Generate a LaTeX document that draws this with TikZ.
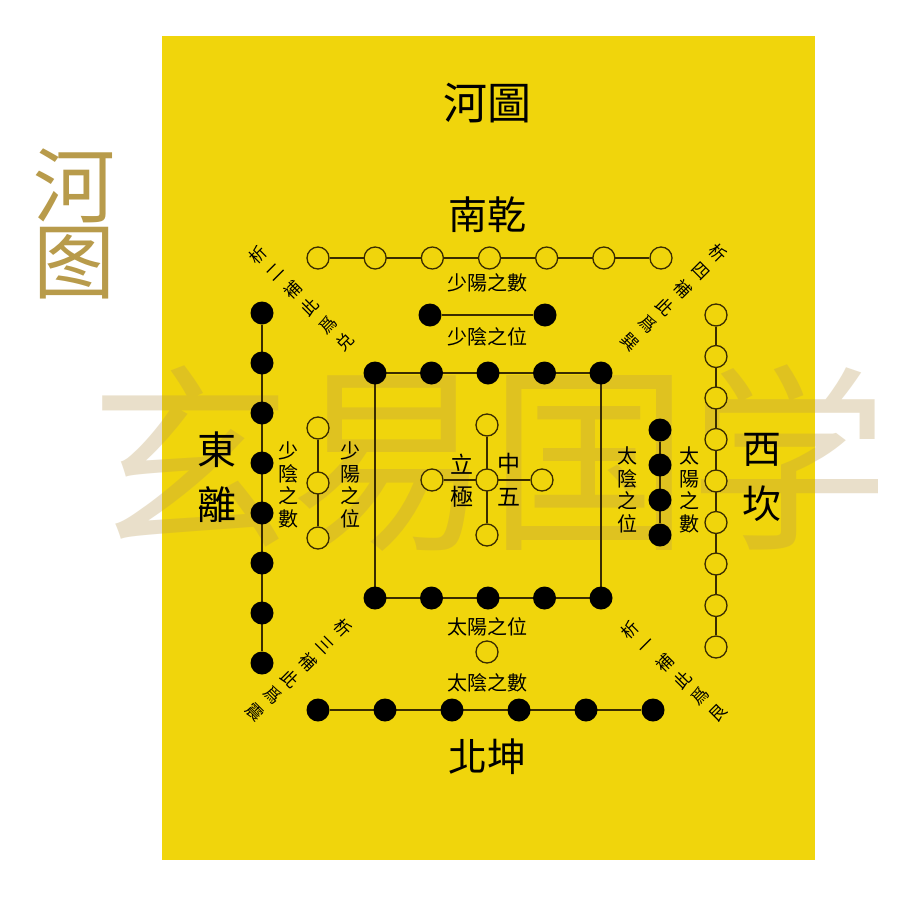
\documentclass[tikz,border=0pt]{standalone}
\usepackage{fontspec}
\newfontfamily\cjk{Noto Sans CJK TC}
\newfontfamily\cjksc{Noto Sans CJK SC}
\usetikzlibrary{backgrounds}

\definecolor{amarillo}{HTML}{F0D50C}
\definecolor{oro}{HTML}{B89B4B}
\definecolor{trazo}{HTML}{3A2C00}
\definecolor{tenue}{HTML}{B89850}

\tikzset{
  abierto/.style={circle, draw=trazo, line width=1.3pt, fill=amarillo,
    minimum size=22pt, inner sep=0pt},
  cerrado/.style={circle, fill=black, minimum size=23pt, inner sep=0pt},
  union/.style={draw=trazo, line width=1.3pt},
  etiqueta/.style={font=\cjk\fontsize{20}{22.5}\selectfont, align=center,
    inner sep=0pt},
  diag/.style={font=\cjk\fontsize{17}{17}\selectfont, inner sep=0pt},
  rotulo/.style={font=\cjk\fontsize{39}{55}\selectfont, align=center,
    inner sep=0pt}
}

\begin{document}
\begin{tikzpicture}[x=1pt, y=-1pt]

  % Fondo blanco y lamina amarilla
  \useasboundingbox (0,0) rectangle (900,900);
  \begin{pgfonlayer}{background}
    \fill[white] (0,0) rectangle (900,900);
    \fill[amarillo] (162,36) rectangle (815,860);
    % Marca de agua
    \node[font=\cjksc\fontsize{200}{200}\selectfont, text=tenue,
      text opacity=0.3, inner sep=0pt] (marca) at (490,458) {玄易国学};
  \end{pgfonlayer}

  % Titulo lateral
  \node[font=\cjksc\fontsize{82}{76}\selectfont, text=oro, align=center,
    inner sep=0pt] (lateral) at (75,224) {河\\图};

  % Titulos
  \node[font=\cjk\fontsize{44}{44}\selectfont, inner sep=0pt] (titulo) at (487,103) {河圖};
  \node[rotulo] (sur) at (487,215) {南乾};
  \node[rotulo] (norte) at (487,757) {北坤};
  \node[rotulo] (este) at (217,477) {東\\離};
  \node[rotulo] (oeste) at (762,477) {西\\坎};

  %-------------------------------------
  % SUR: 7 blancos y 2 negros
  %-------------------------------------
  \foreach \i in {0,...,6}
    \node[abierto] (s\i) at ({318+57.17*\i},258) {};
  \node[cerrado] (sa) at (430,315) {};
  \node[cerrado] (sb) at (545,315) {};
  \node[etiqueta] (ls1) at (487,283) {少陽之數};
  \node[etiqueta] (ls2) at (487,337) {少陰之位};

  %-------------------------------------
  % NORTE: 6 negros y 1 blanco
  %-------------------------------------
  \foreach \i in {0,...,5}
    \node[cerrado] (n\i) at ({318+67*\i},710) {};
  \node[abierto] (na) at (487,652) {};
  \node[etiqueta] (ln1) at (487,627) {太陽之位};
  \node[etiqueta] (ln2) at (487,683) {太陰之數};

  %-------------------------------------
  % ESTE: 8 negros y 3 blancos
  %-------------------------------------
  \foreach \i in {0,...,7}
    \node[cerrado] (e\i) at (262,{313+50*\i}) {};
  \foreach \i in {0,...,2}
    \node[abierto] (ea\i) at (318,{428+55*\i}) {};
  \node[etiqueta] (le1) at (288,485) {少\\陰\\之\\數};
  \node[etiqueta] (le2) at (350,485) {少\\陽\\之\\位};

  %-------------------------------------
  % OESTE: 9 blancos y 4 negros
  %-------------------------------------
  \foreach \i in {0,...,8}
    \node[abierto] (o\i) at (716,{315+41.5*\i}) {};
  \foreach \i in {0,...,3}
    \node[cerrado] (oa\i) at (660,{430+35*\i}) {};
  \node[etiqueta] (lo1) at (627,490) {太\\陰\\之\\位};
  \node[etiqueta] (lo2) at (689,490) {太\\陽\\之\\數};

  %-------------------------------------
  % CENTRO: cuadrado de 10 y cruz de 5
  %-------------------------------------
  \foreach \i in {0,...,4} {
    \node[cerrado] (ca\i) at ({375+56.5*\i},373) {};
    \node[cerrado] (cb\i) at ({375+56.5*\i},598) {};
  }
  \node[abierto] (c0) at (487,480) {};
  \node[abierto] (c1) at (487,425) {};
  \node[abierto] (c2) at (487,535) {};
  \node[abierto] (c3) at (432,480) {};
  \node[abierto] (c4) at (542,480) {};
  \node[font=\cjk\fontsize{23}{23}\selectfont, inner sep=0pt] (cl1) at (462,464) {立};
  \node[font=\cjk\fontsize{23}{23}\selectfont, inner sep=0pt] (cl2) at (509,464) {中};
  \node[font=\cjk\fontsize{23}{23}\selectfont, inner sep=0pt] (cl3) at (462,497) {極};
  \node[font=\cjk\fontsize{23}{23}\selectfont, inner sep=0pt] (cl4) at (509,497) {五};

  %-------------------------------------
  % ESQUINAS: letreros en diagonal
  %-------------------------------------
  \foreach \c [count=\k from 0] in {析,二,補,此,爲,兑}
    \node[diag, rotate=45] (da\k) at ({258+17.4*\k},{255+17.4*\k}) {\c};
  \foreach \c [count=\k from 0] in {析,四,補,此,爲,巽}
    \node[diag, rotate=-45] (db\k) at ({718-17.6*\k},{253+17.8*\k}) {\c};
  \foreach \c [count=\k from 0] in {析,三,補,此,爲,震}
    \node[diag, rotate=-45] (dc\k) at ({343-17.6*\k},{628+16.8*\k}) {\c};
  \foreach \c [count=\k from 0] in {析,一,補,此,爲,艮}
    \node[diag, rotate=45] (dd\k) at ({630+17.6*\k},{630+16.6*\k}) {\c};

  % Uniones (debajo de los puntos)
  \begin{pgfonlayer}{background}
    \draw[union] (s0) -- (s6);
    \draw[union] (sa) -- (sb);
    \draw[union] (n0) -- (n5);
    \draw[union] (e0) -- (e7);
    \draw[union] (ea0) -- (ea2);
    \draw[union] (o0) -- (o8);
    \draw[union] (oa0) -- (oa3);
    \draw[union] (ca0.center) -- (ca4.center) -- (cb4.center)
      -- (cb0.center) -- cycle;
    \draw[union] (c1) -- (c2);
    \draw[union] (c3) -- (c4);
  \end{pgfonlayer}

\end{tikzpicture}
\end{document}
